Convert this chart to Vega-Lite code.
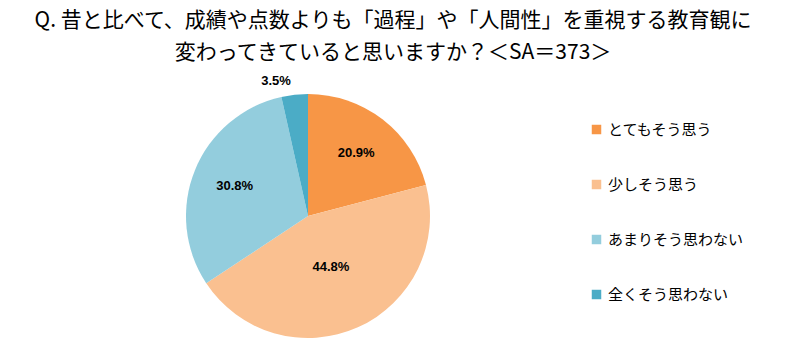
{
  "$schema": "https://vega.github.io/schema/vega-lite/v6.json",
  "autosize": "none",
  "width": 244,
  "height": 244,
  "padding": {"left": 186, "top": 94, "right": 357, "bottom": 8},
  "background": "white",
  "title": {
    "text": ["Q. 昔と比べて、成績や点数よりも「過程」や「人間性」を重視する教育観に", "変わってきていると思いますか？＜SA＝373＞"],
    "font": "Noto Sans CJK JP",
    "fontSize": 21,
    "fontWeight": "normal",
    "color": "#000000",
    "lineHeight": 32,
    "anchor": "middle",
    "dx": 85,
    "offset": 12
  },
  "data": {
    "values": [
      {"category": "とてもそう思う", "value": 20.9, "label": "20.9%", "rank": 1},
      {"category": "少しそう思う", "value": 44.8, "label": "44.8%", "rank": 2},
      {"category": "あまりそう思わない", "value": 30.8, "label": "30.8%", "rank": 3},
      {"category": "全くそう思わない", "value": 3.5, "label": "3.5%", "rank": 4}
    ]
  },
  "encoding": {
    "theta": {"field": "value", "type": "quantitative", "stack": true},
    "order": {"field": "rank", "type": "quantitative"}
  },
  "layer": [
    {
      "mark": {"type": "arc", "outerRadius": 122},
      "encoding": {
        "color": {
          "field": "category",
          "type": "nominal",
          "sort": ["とてもそう思う", "少しそう思う", "あまりそう思わない", "全くそう思わない"],
          "scale": {
            "domain": ["とてもそう思う", "少しそう思う", "あまりそう思わない", "全くそう思わない"],
            "range": ["#F79646", "#FAC090", "#93CDDD", "#4BACC6"]
          },
          "legend": {
            "title": null,
            "orient": "none",
            "legendX": 403,
            "legendY": 28,
            "symbolType": "square",
            "symbolSize": 90,
            "symbolStrokeWidth": 0,
            "labelFont": "Noto Sans CJK JP",
            "labelFontSize": 15,
            "labelColor": "#000000",
            "labelOffset": 4,
            "rowPadding": 39
          }
        }
      }
    },
    {
      "mark": {"type": "text", "radius": 79, "font": "Liberation Sans", "fontWeight": "bold", "fontSize": 13, "color": "#000000"},
      "encoding": {"text": {"condition": {"test": "datum.rank == 1 || datum.rank == 3", "field": "label"}, "value": ""}}
    },
    {
      "mark": {"type": "text", "radius": 56, "font": "Liberation Sans", "fontWeight": "bold", "fontSize": 13, "color": "#000000"},
      "encoding": {"text": {"condition": {"test": "datum.rank == 2", "field": "label"}, "value": ""}}
    },
    {
      "mark": {"type": "text", "radius": 136, "dx": -17, "font": "Liberation Sans", "fontWeight": "bold", "fontSize": 13, "color": "#000000"},
      "encoding": {"text": {"condition": {"test": "datum.rank == 4", "field": "label"}, "value": ""}}
    }
  ],
  "config": {"view": {"stroke": null}}
}
